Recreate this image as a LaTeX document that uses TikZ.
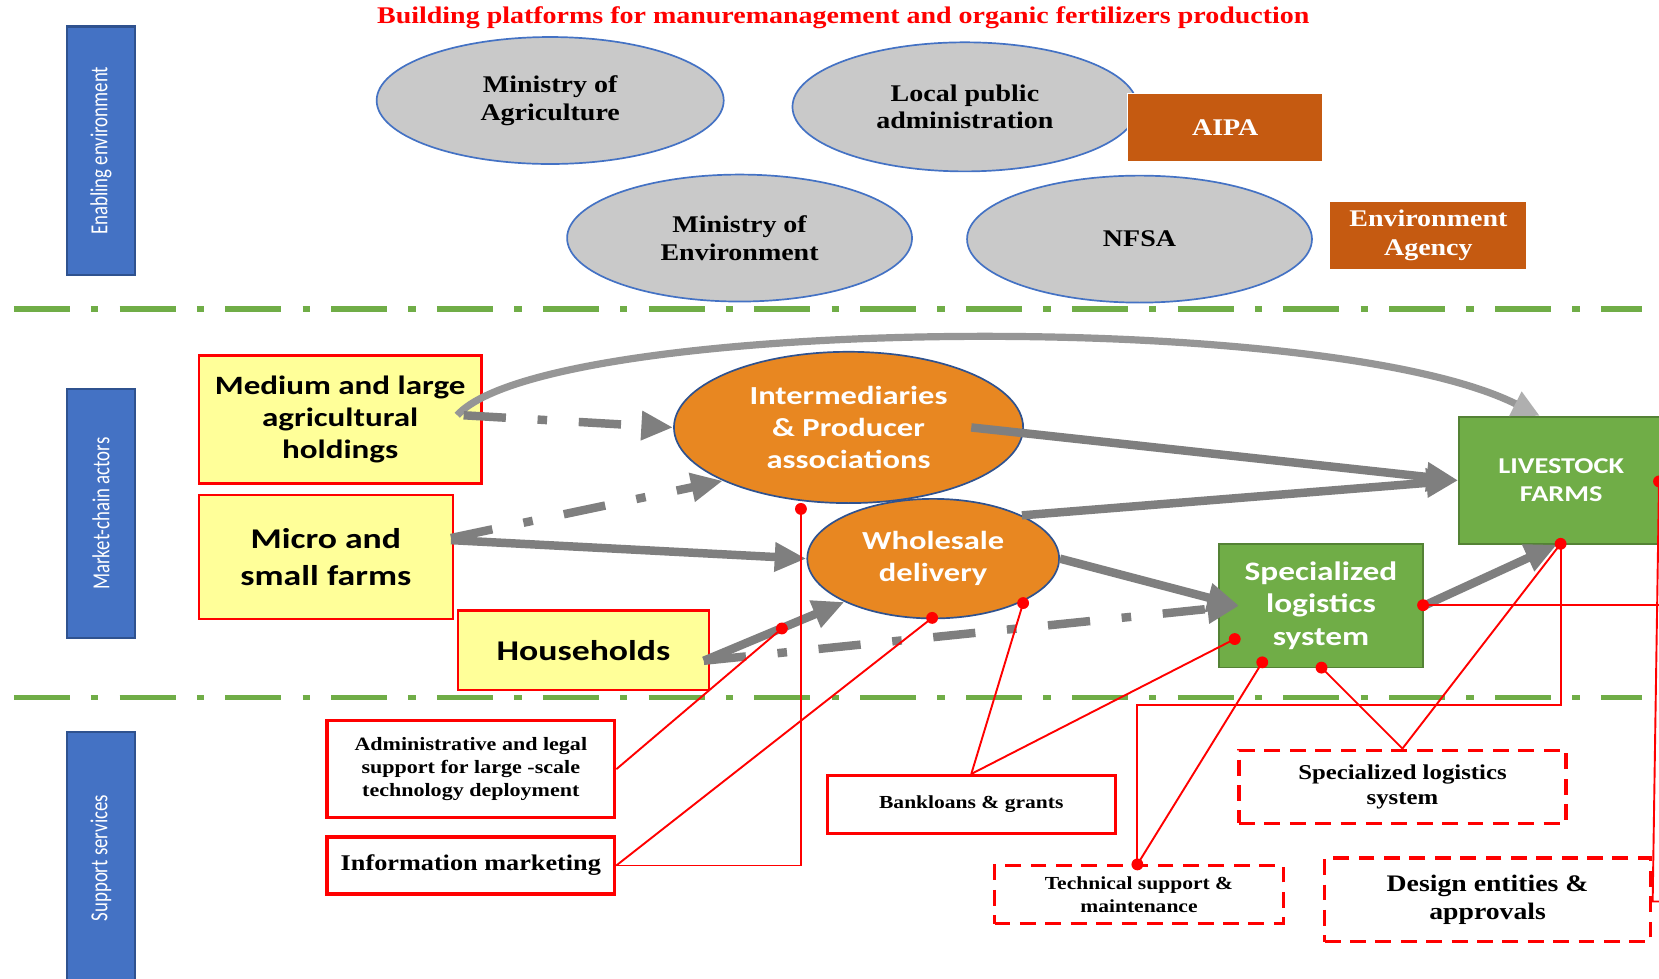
\documentclass[tikz,border=0pt]{standalone}
\usepackage{fontspec}
\usetikzlibrary{shapes.geometric,arrows.meta}
\newfontfamily\serfont[FakeStretch=1.17]{Liberation Serif}
\newfontfamily\sanfont[FakeStretch=1.25]{Carlito}
\newfontfamily\barfont{Carlito}

\definecolor{barfill}{RGB}{68,114,196}
\definecolor{baredge}{RGB}{47,82,143}
\definecolor{sepgreen}{RGB}{112,173,71}
\definecolor{ellgray}{RGB}{201,201,201}
\definecolor{ellblue}{RGB}{68,114,196}
\definecolor{agorange}{RGB}{197,90,17}
\definecolor{prodyellow}{RGB}{255,255,153}
\definecolor{huborange}{RGB}{232,135,33}
\definecolor{hubedge}{RGB}{47,82,143}
\definecolor{farmgreen}{RGB}{112,173,71}
\definecolor{farmedge}{RGB}{84,130,53}
\definecolor{flowgray}{RGB}{127,127,127}
\definecolor{swooshgray}{RGB}{150,150,150}
\definecolor{swooshtip}{RGB}{175,175,175}
\definecolor{linkred}{RGB}{255,0,0}

\tikzset{
  sidebar/.style={rectangle, rotate=90, draw=baredge, fill=barfill, line width=1pt,
    minimum width=117.5pt, minimum height=32.5pt, inner sep=0pt, text=white,
    font=\barfont\fontsize{8.9}{10}\selectfont},
  sep/.style={draw=sepgreen, line width=2.5pt, dash pattern=on 26.5pt off 10pt on 3.5pt off 10pt},
  govt/.style={ellipse, draw=ellblue, fill=ellgray, line width=0.8pt, inner sep=0pt,
    align=center, font=\serfont\bfseries\fontsize{11.3}{13}\selectfont},
  agency/.style={rectangle, fill=agorange, draw=white, line width=0.5pt, text=white,
    inner sep=0pt, align=center, font=\serfont\bfseries\fontsize{11.3}{13.5}\selectfont},
  producer/.style={rectangle, fill=prodyellow, draw=linkred, line width=1.2pt,
    inner sep=0pt, align=center},
  hub/.style={ellipse, fill=huborange, draw=hubedge, line width=0.8pt, text=white,
    inner sep=0pt, align=center, font=\sanfont\bfseries\fontsize{12.3}{15.2}\selectfont},
  farmbox/.style={rectangle, fill=farmgreen, draw=farmedge, line width=0.8pt, text=white,
    inner sep=0pt, align=center},
  svc/.style={rectangle, draw=linkred, line width=1.5pt, fill=white, inner sep=0pt,
    align=center},
  svcdash/.style={svc, dash pattern=on 7.5pt off 4.5pt},
  flow/.style={draw=flowgray, line width=4pt, -{Triangle[length=15pt,width=13pt]}},
  flowdd/.style={flow, dash pattern=on 20pt off 15pt on 4.5pt off 15pt},
  swoosh/.style={draw=swooshgray, line width=3.4pt,
    -{Triangle[length=13pt,width=12pt,color=swooshtip]}},
  link/.style={draw=linkred, line width=0.9pt},
  reddot/.style={circle, fill=linkred, inner sep=0pt, minimum size=5.6pt}
}

\begin{document}
\begin{tikzpicture}[x=0.5pt,y=-0.5pt]
\useasboundingbox (0,0) rectangle (1568,925);
\fill[white] (0,0) rectangle (1568,925);

% title
\node[text=linkred, font=\serfont\bfseries\fontsize{11.3}{13}\selectfont] (title) at (797,17)
  {Building platforms for manuremanagement and organic fertilizers production};

% layer separators
\draw[sep] (13,292) -- (1552,292);
\draw[sep] (13,659) -- (1552,659);

% layer labels
\node[sidebar] (barenv) at (95.5,142.5) {\scalebox{1}[1.3]{Enabling environment}};
\node[sidebar] (barmkt) at (95.5,485.5) {\scalebox{1}[1.3]{Market-chain actors}};
\node[sidebar, minimum width=119pt] (barsup) at (95.5,811) {\scalebox{1}[1.3]{Support services}};

% enabling environment
\node[govt, minimum width=164pt, minimum height=60pt] (moa) at (520,95) {Ministry of\\Agriculture};
\node[govt, minimum width=163pt, minimum height=61pt] (lpa) at (912,101) {Local public\\administration};
\node[govt, minimum width=163pt, minimum height=60pt] (moe) at (699,225) {Ministry of\\Environment};
\node[govt, minimum width=163pt, minimum height=60pt] (nfsa) at (1077,226) {NFSA};
\node[agency, minimum width=92pt, minimum height=32.5pt] (aipa) at (1158,120.5) {AIPA};
\node[agency, minimum width=93pt, minimum height=32.5pt] (envag) at (1350,222.5) {Environment\\Agency};

% market-chain actors
\node[producer, minimum width=133.5pt, minimum height=60.5pt,
  font=\sanfont\bfseries\fontsize{12.5}{15}\selectfont] (medium) at (321.5,396.5)
  {Medium and large\\agricultural\\holdings};
\node[producer, minimum width=120pt, minimum height=58.5pt,
  font=\sanfont\bfseries\fontsize{13.5}{17.5}\selectfont] (micro) at (308,526.5)
  {Micro and\\small farms};
\node[producer, minimum width=118.5pt, minimum height=37.5pt,
  font=\sanfont\bfseries\fontsize{13.5}{16}\selectfont] (house) at (551.5,614.5) {Households};
\node[hub, minimum width=165pt, minimum height=71.5pt] (inter) at (802,404)
  {Intermediaries\\\& Producer\\associations};
\node[hub, minimum width=119pt, minimum height=56.5pt] (whole) at (882,528)
  {Wholesale\\delivery};
\node[farmbox, minimum width=96.5pt, minimum height=60pt,
  font=\sanfont\bfseries\fontsize{10.7}{13}\selectfont] (live) at (1475.5,454)
  {LIVESTOCK\\FARMS};
\node[farmbox, minimum width=96.5pt, minimum height=58.5pt,
  font=\sanfont\bfseries\fontsize{12.6}{15.2}\selectfont] (spec) at (1248.5,572.5)
  {Specialized\\logistics\\system};

% support services
\node[svc, minimum width=136pt, minimum height=46pt,
  font=\serfont\bfseries\fontsize{8.9}{10.75}\selectfont] (admin) at (445,727)
  {Administrative and legal\\support for large -scale\\technology deployment};
\node[svc, minimum width=136pt, minimum height=27pt,
  font=\serfont\bfseries\fontsize{10.6}{12}\selectfont] (info) at (445,818)
  {Information marketing};
\node[svc, minimum width=136pt, minimum height=27.5pt,
  font=\serfont\bfseries\fontsize{8.7}{10}\selectfont] (bank) at (918,760.5)
  {Bankloans \& grants};
\node[svcdash, minimum width=154.5pt, minimum height=34.5pt,
  font=\serfont\bfseries\fontsize{10}{12}\selectfont] (spectwo) at (1325.5,743.5)
  {Specialized logistics\\system};
\node[svcdash, minimum width=136.5pt, minimum height=27.5pt,
  font=\serfont\bfseries\fontsize{8.7}{11}\selectfont] (tech) at (1076.5,845.5)
  {Technical support \&\\maintenance};
\node[svcdash, minimum width=154pt, minimum height=39.5pt,
  font=\serfont\bfseries\fontsize{11.2}{13}\selectfont] (design) at (1406,850.5)
  {Design entities \&\\approvals};

% product flows
\draw[swoosh] ([xshift=-12pt,yshift=2pt]medium.east)
  .. controls (515,300) and (1250,290) .. ([xshift=-10pt]live.north);
\draw[flowdd] ([xshift=-9pt,yshift=2pt]medium.east) -- (inter.west);
\draw[flowdd] ([xshift=-1.5pt,yshift=9pt]micro.east) -- (inter.203);
\draw[flow] ([xshift=-1.5pt,yshift=8pt]micro.east) -- (whole.west);
\draw[flowdd] ([xshift=-3pt,yshift=-5pt]house.east) -- ([xshift=10pt]spec.west);
\draw[flow] ([xshift=-3pt,yshift=-5pt]house.east) -- (whole.206);
\draw[flow] ([xshift=58pt]inter.center) -- (live.west);
\draw[flow] (whole.26) -- (live.west);
\draw[flow] (whole.east) -- ([xshift=10pt]spec.west);
\draw[flow] (spec.east) -- ([xshift=-2pt]live.south);

% service links
\node[reddot] (d1) at (757,481) {};
\node[reddot] (d2) at (739,594) {};
\node[reddot] (d3) at (881,584) {};
\node[reddot] (d4) at (967,570) {};
\node[reddot] (d5) at (1167,604) {};
\node[reddot] (d6) at (1193,626) {};
\node[reddot] (d7) at (1249,631) {};
\node[reddot] (d8) at (1345,572) {};
\node[reddot] (d9) at (1475,514) {};
\node[reddot] (d10) at (1075,817) {};
\node[reddot] (d11) at (1568,455) {};
\coordinate (elb) at (1475,666);
\coordinate (rb) at (1562,852);
\coordinate (re) at (1572,852);
\coordinate (rr) at (1572,572);

\draw[link] (d1.center) |- (info.east);
\draw[link] (d2.center) -- (admin.east);
\draw[link] (d3.center) -- (info.east);
\draw[link] (d4.center) -- (bank.north);
\draw[link] (d5.center) -- (bank.north);
\draw[link] (d6.center) -- (d10.center);
\draw[link] (d10.center) |- (elb) -- (d9.center);
\draw[link] (d9.center) -- (spectwo.north);
\draw[link] (d7.center) -- (spectwo.north);
\draw[link] (d8.center) -- (rr);
\draw[link] (d11.center) -- (rb) -- (re);
\end{tikzpicture}
\end{document}
